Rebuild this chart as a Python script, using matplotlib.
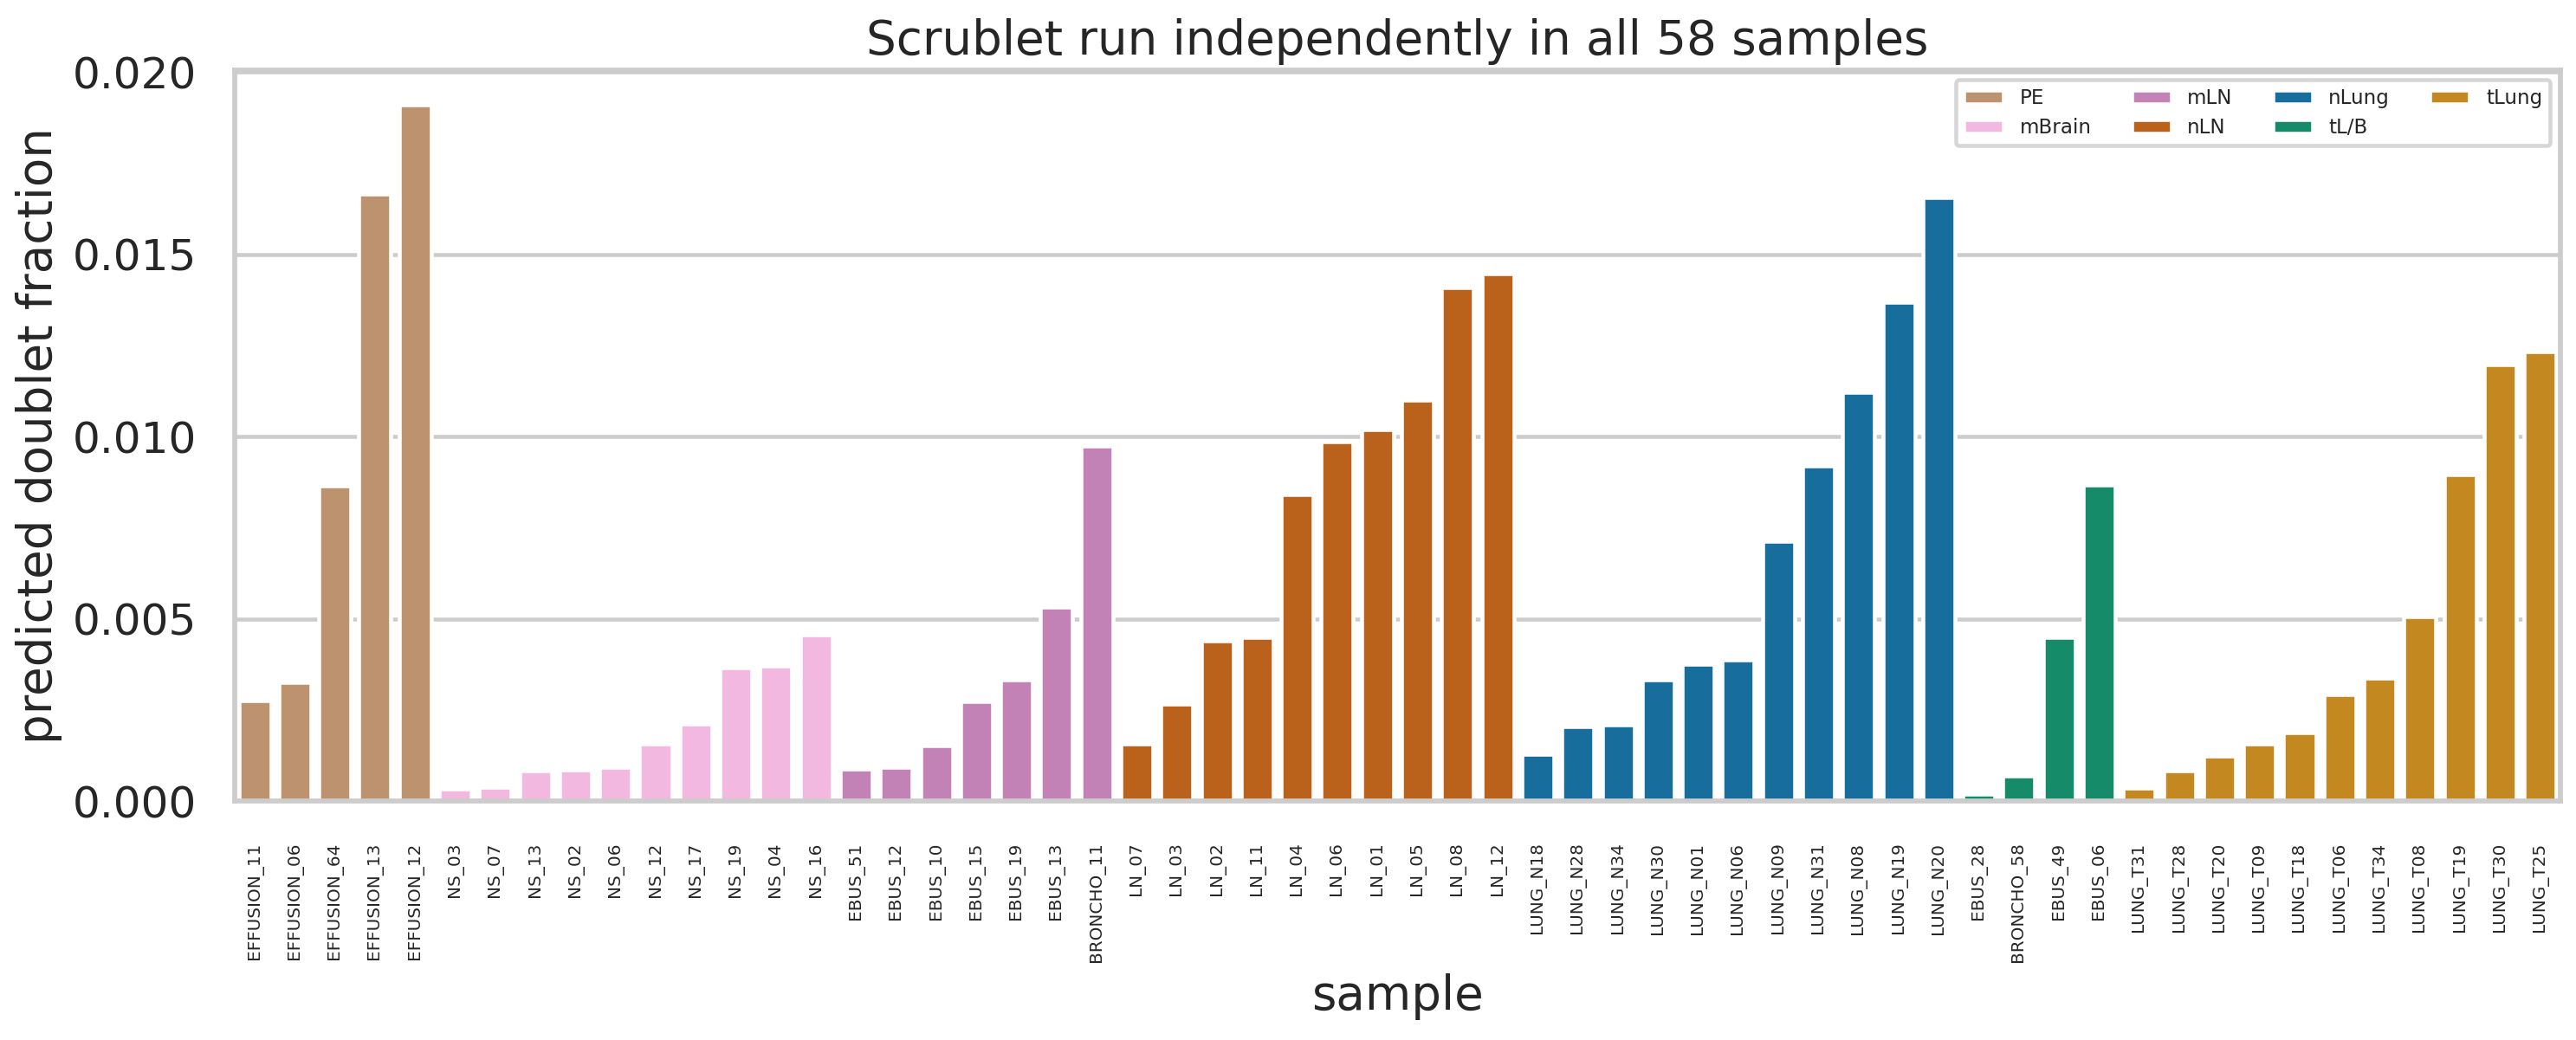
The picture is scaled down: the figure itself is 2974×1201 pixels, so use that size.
import colorsys
import matplotlib
matplotlib.use("Agg")
import matplotlib.pyplot as plt
from matplotlib.colors import to_rgb
from matplotlib.patches import Patch

# samples in plotting order, with their tissue group and scrublet doublet fraction
samples = [
    "EFFUSION_11", "EFFUSION_06", "EFFUSION_64", "EFFUSION_13", "EFFUSION_12",
    "NS_03", "NS_07", "NS_13", "NS_02", "NS_06", "NS_12", "NS_17", "NS_19", "NS_04", "NS_16",
    "EBUS_51", "EBUS_12", "EBUS_10", "EBUS_15", "EBUS_19", "EBUS_13", "BRONCHO_11",
    "LN_07", "LN_03", "LN_02", "LN_11", "LN_04", "LN_06", "LN_01", "LN_05", "LN_08", "LN_12",
    "LUNG_N18", "LUNG_N28", "LUNG_N34", "LUNG_N30", "LUNG_N01", "LUNG_N06", "LUNG_N09",
    "LUNG_N31", "LUNG_N08", "LUNG_N19", "LUNG_N20",
    "EBUS_28", "BRONCHO_58", "EBUS_49", "EBUS_06",
    "LUNG_T31", "LUNG_T28", "LUNG_T20", "LUNG_T09", "LUNG_T18", "LUNG_T06", "LUNG_T34",
    "LUNG_T08", "LUNG_T19", "LUNG_T30", "LUNG_T25",
]
groups = (["PE"] * 5 + ["mBrain"] * 10 + ["mLN"] * 7 + ["nLN"] * 10
          + ["nLung"] * 11 + ["tL/B"] * 4 + ["tLung"] * 11)
doublet_frac = [
    0.00275, 0.00325, 0.00865, 0.01665, 0.0191,
    0.00033, 0.00037, 0.00082, 0.00085, 0.00092, 0.00158, 0.00212, 0.00365, 0.0037, 0.00455,
    0.00088, 0.00093, 0.00153, 0.00273, 0.00333, 0.00533, 0.00975,
    0.00158, 0.00265, 0.0044, 0.0045, 0.0084, 0.00985, 0.0102, 0.011, 0.0141, 0.01448,
    0.00128, 0.00205, 0.0021, 0.00333, 0.00375, 0.00388, 0.00712, 0.0092, 0.01122, 0.01368,
    0.01655,
    0.00019, 0.0007, 0.0045, 0.00868,
    0.00036, 0.00083, 0.00123, 0.00158, 0.00188, 0.00292, 0.00337, 0.00505, 0.00895, 0.01197,
    0.01233,
]
group_order = ["PE", "mBrain", "mLN", "nLN", "nLung", "tL/B", "tLung"]

# seaborn "colorblind" colours, desaturated like sns.barplot does
base_colors = {
    "PE": "#ca9161", "mBrain": "#fbafe4", "mLN": "#cc78bc", "nLN": "#d55e00",
    "nLung": "#0173b2", "tL/B": "#029e73", "tLung": "#de8f05",
}


def desaturate(color, prop=0.75):
    h, l, s = colorsys.rgb_to_hls(*to_rgb(color))
    return colorsys.hls_to_rgb(h, l, s * prop)


palette = {g: desaturate(c) for g, c in base_colors.items()}

# whitegrid + talk look, scaled to the reference's resolution
k = 219 / 200
dark = "#262626"
light = "#cccccc"
plt.rcParams.update({
    "font.family": "DejaVu Sans",
    "text.color": dark,
    "axes.labelcolor": dark,
    "xtick.color": dark,
    "ytick.color": dark,
})

fig = plt.figure(figsize=(14.8702, 6.0052), dpi=200)
ax = fig.add_axes([0.0911, 0.2298, 0.9939 - 0.0911, 0.9326 - 0.2298])

x = list(range(len(samples)))
ax.bar(x, doublet_frac, width=0.8, color=[palette[g] for g in groups],
       edgecolor="white", linewidth=1.5 * k, zorder=2)

ax.set_xlim(-0.5, len(samples) - 0.5)
ax.set_xticks(x)
ax.set_xticklabels(samples, rotation=90, fontsize=7.2)
ax.set_yticks([0, 0.005, 0.010, 0.015, 0.020])
ax.set_yticklabels(["0.000", "0.005", "0.010", "0.015", "0.020"])
ax.tick_params(axis="y", labelsize=16.5 * k, length=0, pad=(5.25 + 9) * k)
ax.tick_params(axis="x", length=0, pad=(5.25 + 9) * k + 1.5)

ax.set_axisbelow(True)
ax.yaxis.grid(True, color=light, linewidth=1.5 * k)
ax.xaxis.grid(False)
for sp in ax.spines.values():
    sp.set_color(light)
    sp.set_linewidth(1.875 * k)

ax.set_xlabel("sample", fontsize=18 * k, labelpad=4 * k)
ax.set_ylabel("predicted doublet fraction", fontsize=18 * k, labelpad=4 * k)
ax.set_title("Scrublet run independently in all 58 samples", fontsize=18 * k, pad=6 * k)

handles = [Patch(facecolor=palette[g], edgecolor="white", linewidth=1.5 * k, label=g)
           for g in group_order]
leg = ax.legend(handles=handles, loc="upper right", ncol=4, fontsize=8.3,
                frameon=True, fancybox=True, framealpha=0.8)
leg.get_frame().set_edgecolor(light)
leg.get_frame().set_linewidth(1.5 * k)

fig.savefig("out.png", dpi=200)
